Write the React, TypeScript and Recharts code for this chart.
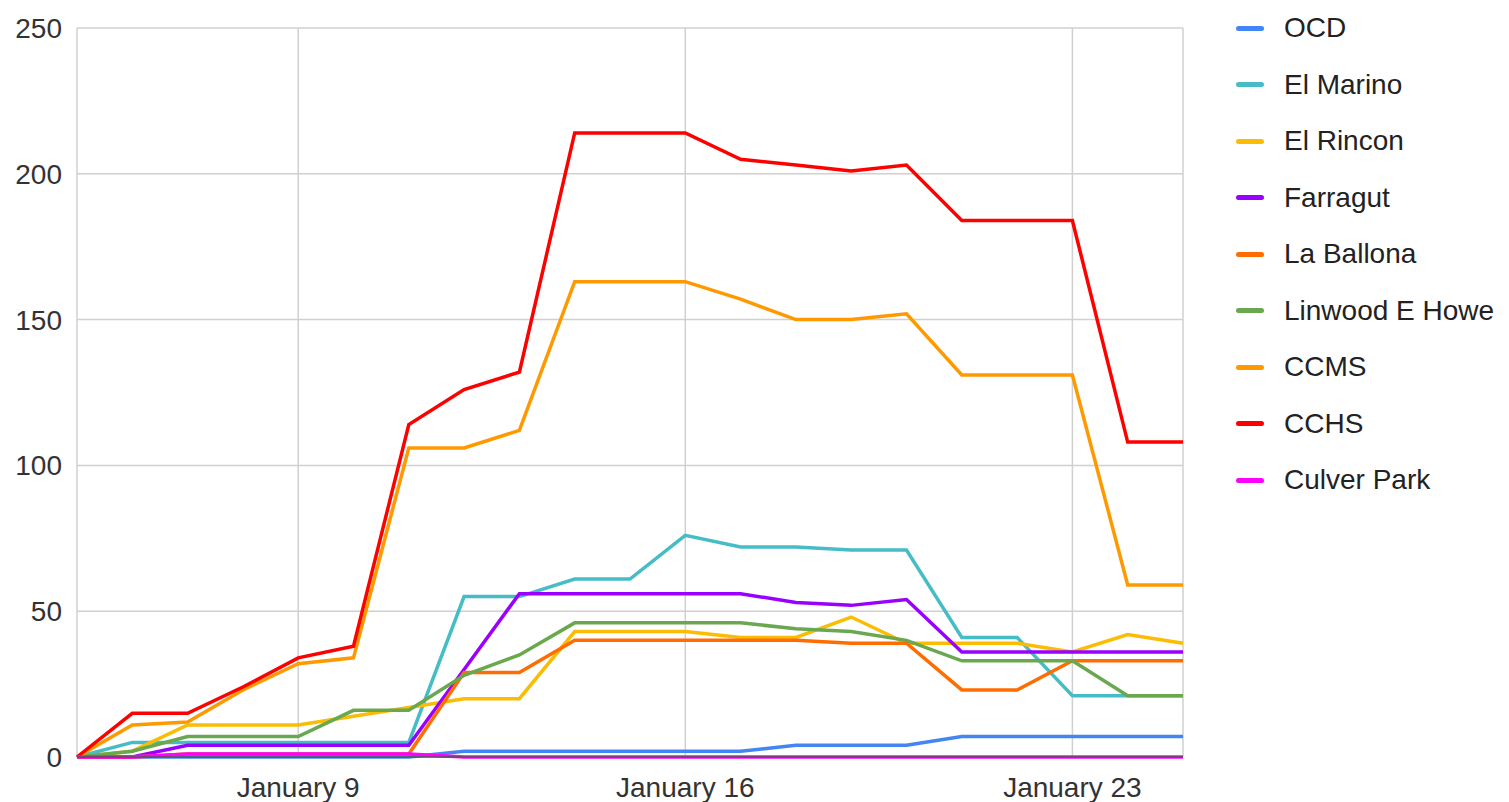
import React from 'react';
import {
  LineChart,
  Line,
  XAxis,
  YAxis,
  CartesianGrid,
  Legend,
} from 'recharts';

// days of January, one point per day
const days = [5, 6, 7, 8, 9, 10, 11, 12, 13, 14, 15, 16, 17, 18, 19, 20, 21, 22, 23, 24, 25];

const ocd = [0, 0, 0, 0, 0, 0, 0, 2, 2, 2, 2, 2, 2, 4, 4, 4, 7, 7, 7, 7, 7];
const elMarino = [0, 5, 5, 5, 5, 5, 5, 55, 55, 61, 61, 76, 72, 72, 71, 71, 41, 41, 21, 21, 21];
const elRincon = [0, 2, 11, 11, 11, 14, 17, 20, 20, 43, 43, 43, 41, 41, 48, 39, 39, 39, 36, 42, 39];
const farragut = [0, 0, 4, 4, 4, 4, 4, 30, 56, 56, 56, 56, 56, 53, 52, 54, 36, 36, 36, 36, 36];
const laBallona = [0, 0, 1, 1, 1, 1, 1, 29, 29, 40, 40, 40, 40, 40, 39, 39, 23, 23, 33, 33, 33];
const linwood = [0, 2, 7, 7, 7, 16, 16, 28, 35, 46, 46, 46, 46, 44, 43, 40, 33, 33, 33, 21, 21];
const ccms = [0, 11, 12, 23, 32, 34, 106, 106, 112, 163, 163, 163, 157, 150, 150, 152, 131, 131, 131, 59, 59];
const cchs = [0, 15, 15, 24, 34, 38, 114, 126, 132, 214, 214, 214, 205, 203, 201, 203, 184, 184, 184, 108, 108];
const culverPark = [0, 0, 1, 1, 1, 1, 1, 0, 0, 0, 0, 0, 0, 0, 0, 0, 0, 0, 0, 0, 0];

const xTicks = [9, 16, 23];
const yTicks = [0, 50, 100, 150, 200, 250];

const series = [
  { name: 'OCD', values: ocd, color: '#4285f4' },
  { name: 'El Marino', values: elMarino, color: '#46bdc6' },
  { name: 'El Rincon', values: elRincon, color: '#fbbc04' },
  { name: 'Farragut', values: farragut, color: '#9900ff' },
  { name: 'La Ballona', values: laBallona, color: '#ff6d01' },
  { name: 'Linwood E Howe', values: linwood, color: '#6aa84f' },
  { name: 'CCMS', values: ccms, color: '#ff9900' },
  { name: 'CCHS', values: cchs, color: '#ff0000' },
  { name: 'Culver Park', values: culverPark, color: '#ff00ff' },
];

const data = days.map((day, i) => {
  const row: any = { day };
  series.forEach((s) => {
    row[s.name] = s.values[i];
  });
  return row;
});

const font = '"Liberation Sans", Arial, sans-serif';

// keep the legend in series order (recharts sorts it by name otherwise)
const renderLegend = () => (
  <div>
    {series.map((s) => (
      <div key={s.name} style={{ height: 56.5, display: 'flex', alignItems: 'center' }}>
        <span
          style={{
            display: 'inline-block',
            width: 28,
            height: 5,
            borderRadius: 3,
            background: s.color,
            marginRight: 20,
          }}
        />
        <span style={{ fontSize: 28, color: '#222', fontFamily: font }}>{s.name}</span>
      </div>
    ))}
  </div>
);

const App: React.FC = () => {
  return (
    <div style={{ position: 'absolute', left: 0, top: 0, width: 1509, height: 802, background: '#fff', fontFamily: font }}>
      <LineChart
        width={1509}
        height={802}
        data={data}
        margin={{ top: 28, right: 66, bottom: 5, left: 0 }}
      >
        <CartesianGrid stroke="#d0d0d0" strokeWidth={1.5} />
        <XAxis
          dataKey="day"
          type="number"
          domain={[5, 25]}
          ticks={xTicks}
          tickFormatter={(d) => `January ${d}`}
          height={40}
          tickLine={false}
          tickSize={0}
          tickMargin={20}
          axisLine={{ stroke: '#555', strokeWidth: 1.5 }}
          tick={{ fill: '#333', fontSize: 28, fontFamily: font }}
        />
        <YAxis
          domain={[0, 250]}
          ticks={yTicks}
          width={77}
          axisLine={false}
          tickLine={false}
          tickSize={0}
          tickMargin={15}
          tick={{ fill: '#333', fontSize: 28, fontFamily: font }}
        />
        <Legend
          layout="vertical"
          align="right"
          verticalAlign="top"
          width={260}
          wrapperStyle={{ left: 1236, top: 0, right: 'auto' }}
          content={renderLegend}
        />
        {series.map((s) => (
          <Line
            key={s.name}
            type="linear"
            dataKey={s.name}
            stroke={s.color}
            strokeWidth={3.5}
            dot={false}
            activeDot={false}
            isAnimationActive={false}
          />
        ))}
      </LineChart>
    </div>
  );
};

export default App;
